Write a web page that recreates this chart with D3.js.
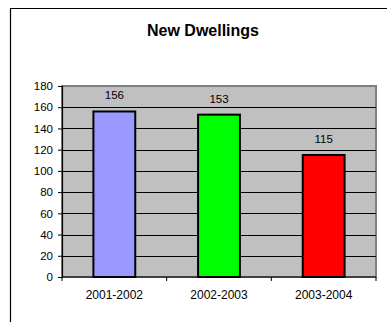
<!DOCTYPE html>
<html>
<head>
<meta charset="utf-8">
<script src="https://cdn.jsdelivr.net/npm/d3@7"></script>
<style>
  body { margin: 0; background: #fff; }
  svg { display: block; font-family: "Liberation Sans", Arial, sans-serif; }
</style>
</head>
<body>
<div id="chart"></div>
<script>
var categories = ["2001-2002", "2002-2003", "2003-2004"];
var values = [156, 153, 115];
var barColors = ["#9999ff", "#00ff00", "#ff0000"];
var yTicks = [0, 20, 40, 60, 80, 100, 120, 140, 160, 180];
var title = "New Dwellings";

var width = 387,
    height = 322,
    margin = { top: 86, right: 11, bottom: 45, left: 62 },
    innerWidth = width - margin.left - margin.right,
    innerHeight = height - margin.top - margin.bottom;

var svg = d3.select("#chart").append("svg")
    .attr("width", width)
    .attr("height", height);

// outer chart frame, only top and left edges are inside the window
svg.append("path")
    .attr("d", "M10.5," + height + "V8.5H" + width)
    .attr("fill", "none")
    .attr("stroke", "#000")
    .attr("stroke-width", 1.2);

svg.append("text")
    .attr("x", 203)
    .attr("y", 36)
    .attr("text-anchor", "middle")
    .style("font-size", "16px")
    .style("font-weight", "bold")
    .text(title);

var g = svg.append("g")
    .attr("transform", "translate(" + margin.left + "," + margin.top + ")");

var xScale = d3.scaleBand()
    .domain(categories)
    .range([0, innerWidth])
    .paddingInner(0.6)
    .paddingOuter(0.3);

var yScale = d3.scaleLinear()
    .domain([0, 180])
    .range([innerHeight, 0]);

// plot background
g.append("rect")
    .attr("width", innerWidth)
    .attr("height", innerHeight)
    .attr("fill", "#c0c0c0")
    .attr("stroke", "#808080")
    .attr("stroke-width", 2);

// gridlines
g.selectAll(".grid")
    .data(yTicks.filter(function(d) { return d > 0 && d < 180; }))
    .enter().append("line")
    .attr("class", "grid")
    .attr("x1", 0)
    .attr("x2", innerWidth)
    .attr("y1", function(d) { return Math.round(yScale(d)) + 0.5; })
    .attr("y2", function(d) { return Math.round(yScale(d)) + 0.5; })
    .attr("stroke", "#000")
    .attr("stroke-width", 1);

// bars
g.selectAll(".bar")
    .data(values)
    .enter().append("rect")
    .attr("class", "bar")
    .attr("x", function(d, i) { return xScale(categories[i]); })
    .attr("y", function(d) { return yScale(d); })
    .attr("width", xScale.bandwidth())
    .attr("height", function(d) { return innerHeight - yScale(d); })
    .attr("fill", function(d, i) { return barColors[i]; })
    .attr("stroke", "#000")
    .attr("stroke-width", 2);

// value labels
g.selectAll(".val")
    .data(values)
    .enter().append("text")
    .attr("class", "val")
    .attr("x", function(d, i) { return xScale(categories[i]) + xScale.bandwidth() / 2; })
    .attr("y", function(d) { return yScale(d) - 12; })
    .attr("text-anchor", "middle")
    .style("font-size", "11.5px")
    .text(function(d) { return d; });

// y axis
var yAxis = g.append("g")
    .call(d3.axisLeft(yScale).tickValues(yTicks).tickSize(4).tickPadding(5));
yAxis.select(".domain").attr("stroke", "#000").attr("stroke-width", 1.2);
yAxis.selectAll("text").style("font-size", "11.5px").attr("fill", "#000");

// x axis: ticks between categories
var step = innerWidth / categories.length;
var xAxis = g.append("g")
    .attr("transform", "translate(0," + innerHeight + ")");
xAxis.append("line")
    .attr("x1", 0).attr("x2", innerWidth)
    .attr("y1", 0).attr("y2", 0)
    .attr("stroke", "#000")
    .attr("stroke-width", 1.2);
xAxis.selectAll(".xtick")
    .data(d3.range(categories.length + 1))
    .enter().append("line")
    .attr("x1", function(d) { return d * step; })
    .attr("x2", function(d) { return d * step; })
    .attr("y1", 0).attr("y2", 4)
    .attr("stroke", "#000");
xAxis.selectAll(".xlab")
    .data(categories)
    .enter().append("text")
    .attr("x", function(d) { return xScale(d) + xScale.bandwidth() / 2; })
    .attr("y", 22)
    .attr("text-anchor", "middle")
    .style("font-size", "12px")
    .text(function(d) { return d; });
</script>
</body>
</html>
